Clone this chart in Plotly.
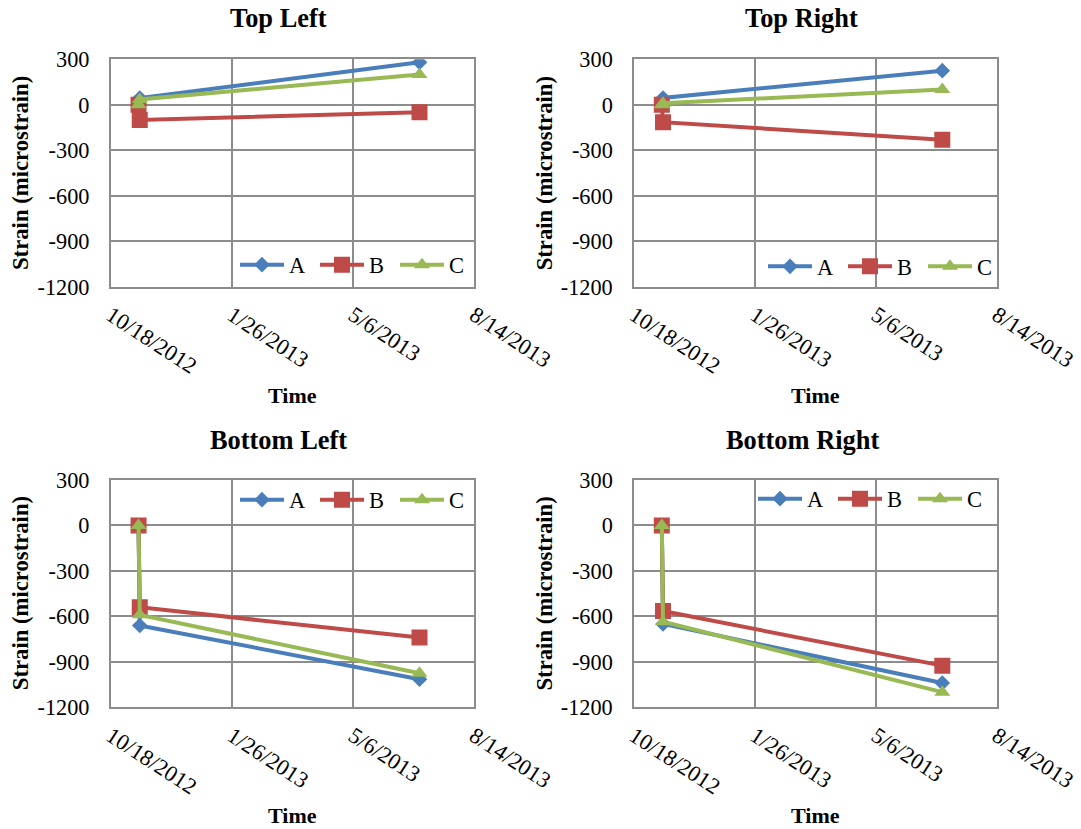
import plotly.graph_objects as go

# ---- data ----
dates = ["2012-11-10", "2012-11-11", "2013-06-30"]
series_names = ["A", "B", "C"]

top_left = {"A": [0, 45, 280], "B": [0, -100, -50], "C": [0, 35, 200]}
top_right = {"A": [0, 45, 225], "B": [0, -115, -230], "C": [0, 10, 100]}
bottom_left = {"A": [0, -660, -1015], "B": [0, -540, -740], "C": [0, -590, -975]}
bottom_right = {"A": [0, -650, -1040], "B": [0, -565, -925], "C": [0, -635, -1100]}

panel_titles = ["Top Left", "Top Right", "Bottom Left", "Bottom Right"]
x_ticks = ["2012-10-18", "2013-01-26", "2013-05-06", "2013-08-14"]
x_tick_text = ["10/18/2012", "1/26/2013", "5/6/2013", "8/14/2013"]
y_ticks = [300, 0, -300, -600, -900, -1200]
y_tick_text = ["300", "0", "-300", "-600", "-900", "-1200"]

colors = {"A": "#4A7EBB", "B": "#BE4B48", "C": "#98B954"}
symbols = {"A": "diamond", "B": "square", "C": "triangle-up"}
msizes = {"A": 12, "B": 16, "C": 14}

W, H = 1081, 829
FONT = "Liberation Serif, Times New Roman, serif"

panels = [top_left, top_right, bottom_left, bottom_right]
# plot-area domains in pixels (left, right, top, bottom)
px_dom = [(110.7, 474, 59.3, 286.7), (634, 996.7, 59.3, 286.7),
          (110.7, 474, 480, 707.3), (634, 996.7, 480, 707.3)]
legend_pos = [(475, 265), (1003, 266.7), (475, 500), (993, 499)]
title_pos = [(278.8, 18.3), (801, 18.3), (278.5, 440), (802, 440)]
xtitle_pos = [(292.7, 395), (815, 395), (292.7, 815), (815, 815)]
ytitle_pos = [(20.7, 173.3), (544, 173.3), (20.7, 593.5), (544, 593.5)]

fig = go.Figure()
layout = dict(width=W, height=H, margin=dict(l=0, r=0, t=0, b=0, autoexpand=False),
              paper_bgcolor="white", plot_bgcolor="white",
              font=dict(family=FONT, color="black", size=22),
              annotations=[])

for i, data in enumerate(panels):
    k = "" if i == 0 else str(i + 1)
    lg = "legend" if i == 0 else f"legend{i+1}"
    for name in series_names:
        fig.add_trace(go.Scatter(
            x=dates, y=data[name], name=name, mode="lines+markers",
            line=dict(color=colors[name], width=4),
            marker=dict(symbol=symbols[name], size=msizes[name],
                        color=colors[name]),
            xaxis="x" + k, yaxis="y" + k, legend=lg))
    l, r, t, b = px_dom[i]
    layout["xaxis" + k] = dict(
        domain=[l / W, r / W], anchor="y" + k, type="date", automargin=False,
        range=["2012-10-18", "2013-08-14"], tickvals=x_ticks, ticktext=x_tick_text,
        tickangle=33, showgrid=True, gridcolor="#8C8C8C", gridwidth=1.5,
        showline=True, linecolor="#8C8C8C", linewidth=1.5, mirror=True,
        ticks="", ticklabelstandoff=5, tickfont=dict(size=22.5), zeroline=False)
    layout["yaxis" + k] = dict(
        domain=[1 - b / H, 1 - t / H], anchor="x" + k, automargin=False,
        range=[-1200, 300], tickvals=y_ticks, ticktext=y_tick_text,
        showgrid=True, gridcolor="#8C8C8C",
        gridwidth=1.5, showline=True, linecolor="#8C8C8C", linewidth=1.5,
        mirror=True, ticks="", ticklabelstandoff=15, tickfont=dict(size=22.3),
        zeroline=False)
    lx, ly = legend_pos[i]
    layout[lg] = dict(x=lx / W, y=1 - ly / H, xanchor="right", yanchor="middle",
                      orientation="h", bgcolor="rgba(0,0,0,0)", itemwidth=44,
                      entrywidth=21, entrywidthmode="pixels",
                      font=dict(size=22.5), tracegroupgap=0)
    tx, ty = title_pos[i]
    layout["annotations"].append(dict(
        text="<b>%s</b>" % panel_titles[i], x=tx / W, y=1 - ty / H, xref="paper",
        yref="paper", showarrow=False, font=dict(size=26.4),
        xanchor="center", yanchor="middle"))
    ax, ay = xtitle_pos[i]
    layout["annotations"].append(dict(
        text="<b>Time</b>", x=ax / W, y=1 - ay / H, xref="paper", yref="paper",
        showarrow=False, font=dict(size=22), xanchor="center", yanchor="middle"))
    yx, yy = ytitle_pos[i]
    layout["annotations"].append(dict(
        text="<b>Strain (microstrain)</b>", x=yx / W, y=1 - yy / H, xref="paper",
        yref="paper", showarrow=False, font=dict(size=22.7), textangle=-90,
        xanchor="center", yanchor="middle"))

fig.update_layout(**layout)
fig.write_html("out.html")
